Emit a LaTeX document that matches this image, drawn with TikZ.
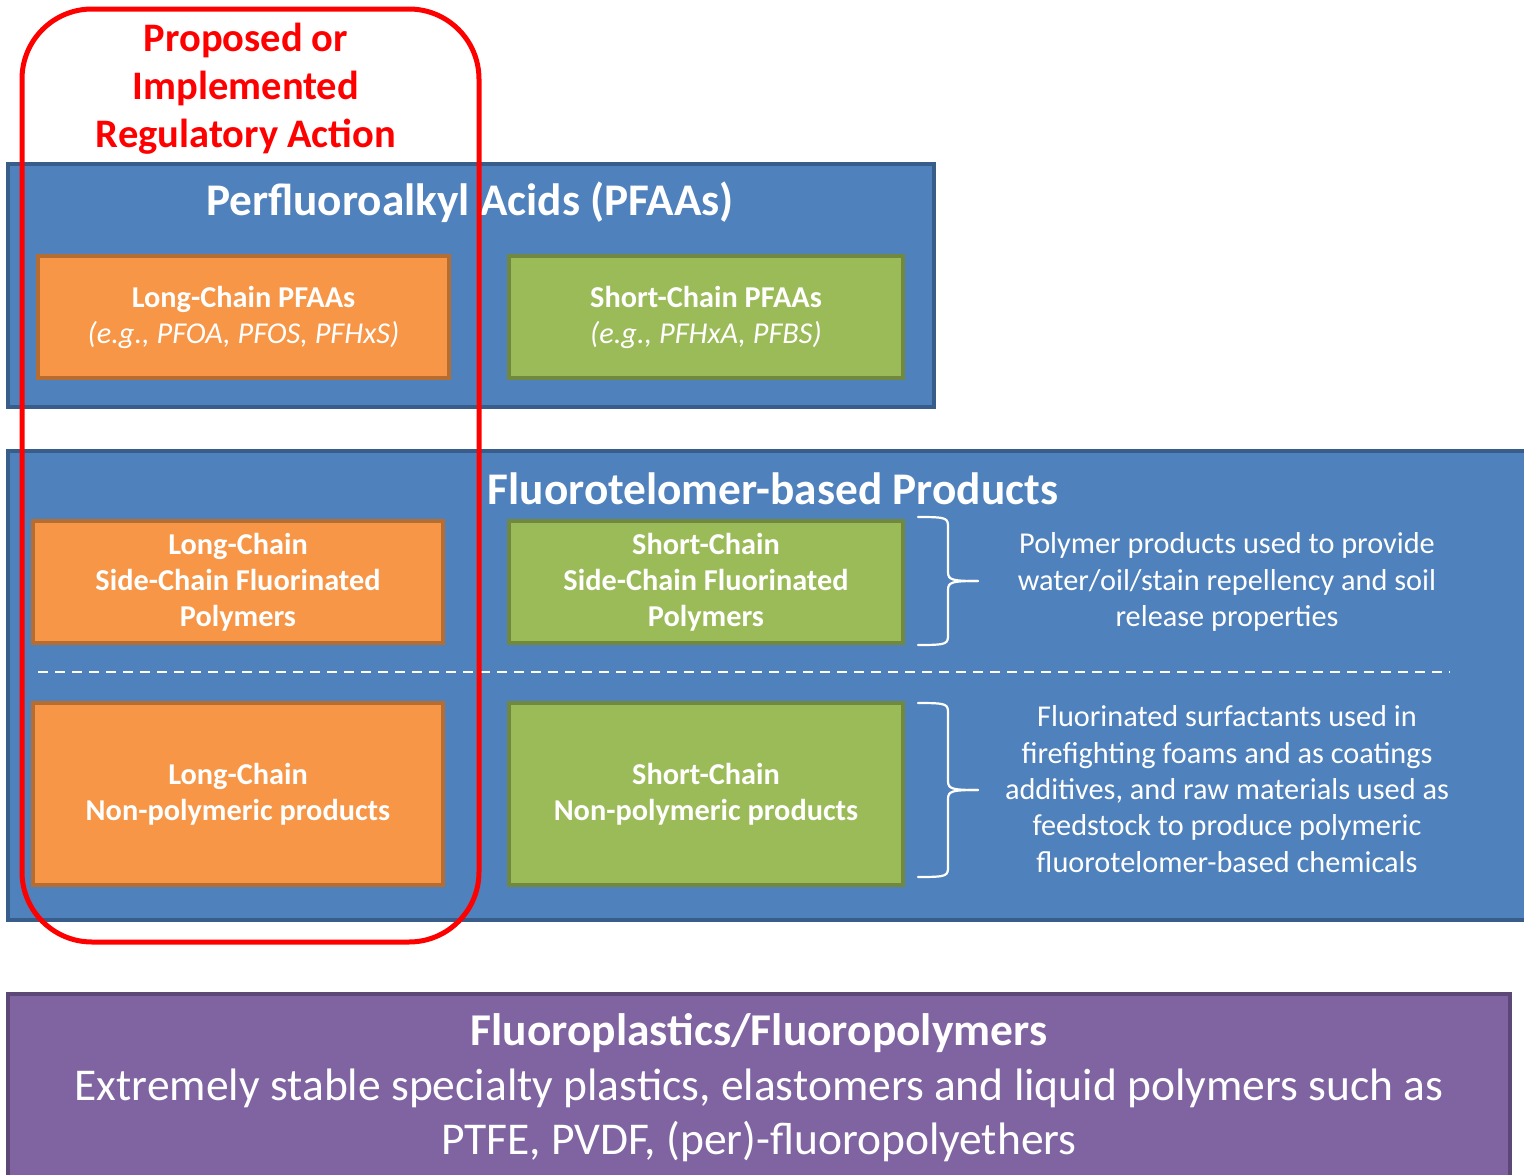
\documentclass[tikz,border=0pt]{standalone}
\usepackage{fontspec}
\setmainfont{Carlito}
\definecolor{pblue}{HTML}{4F81BD}
\definecolor{pbluedk}{HTML}{385D8A}
\definecolor{porange}{HTML}{F79646}
\definecolor{porangedk}{HTML}{B66D31}
\definecolor{pgreen}{HTML}{9BBB59}
\definecolor{pgreendk}{HTML}{71893F}
\definecolor{ppurple}{HTML}{8064A2}
\definecolor{ppurpledk}{HTML}{5C4776}
\definecolor{pred}{HTML}{FF0000}
\begin{document}
\begin{tikzpicture}[x=1pt,y=-1pt,
  panel/.style={draw=pbluedk,fill=pblue,line width=4pt},
  obox/.style={draw=porangedk,fill=porange,line width=4pt,inner sep=0pt,text=white,align=center,font=\fontsize{30.3}{36}\selectfont\bfseries},
  gbox/.style={draw=pgreendk,fill=pgreen,line width=4pt,inner sep=0pt,text=white,align=center,font=\fontsize{30.3}{36}\selectfont\bfseries},
  ptitle/.style={text=white,font=\fontsize{45.3}{48}\selectfont\bfseries,inner sep=0pt},
  desc/.style={text=white,align=center,font=\fontsize{30.3}{36.3}\selectfont,inner sep=0pt},
  bracestyle/.style={draw=white,line width=2.2pt,line cap=round,line join=round}]
\clip (0,0) rectangle (1524,1175);
\fill[white] (0,0) rectangle (1524,1175);

% top panel
\draw[panel] (8,164) rectangle (934,407);
\node[ptitle] (t1) at (470,202) {Perfluoroalkyl Acids (PFAAs)};
\node[obox,minimum width=411pt,minimum height=122pt] (lcp) at (243.5,317) {Long-Chain PFAAs\\\mdseries\itshape (e.g., PFOA, PFOS, PFHxS)};
\node[gbox,minimum width=394pt,minimum height=122pt] (scp) at (706,317) {Short-Chain PFAAs\\\mdseries\itshape (e.g., PFHxA, PFBS)};

% middle panel
\draw[panel] (8,451) rectangle (1540,920);
\node[ptitle] (t2) at (773,489) {Fluorotelomer-based Products};
\node[obox,minimum width=410pt,minimum height=122pt] (lcs) at (238,582) {Long-Chain\\Side-Chain Fluorinated\\Polymers};
\node[gbox,minimum width=394pt,minimum height=122pt] (scs) at (706,582) {Short-Chain\\Side-Chain Fluorinated\\Polymers};
\node[obox,minimum width=410pt,minimum height=182pt] (lcn) at (238,794) {Long-Chain\\Non-polymeric products};
\node[gbox,minimum width=394pt,minimum height=182pt] (scn) at (706,794) {Short-Chain\\Non-polymeric products};
\coordinate (dA) at (38,672);
\coordinate (dB) at (1450,672);
\draw[white,line width=2.3pt,dash pattern=on 10pt off 7pt] (dA) -- (dB);

% braces
\coordinate (b1t) at (918,517);
\coordinate (b1b) at (918,645);
\coordinate (b1m) at (978,581);
\draw[bracestyle] (b1t) .. controls (948,517) and (948,518) .. (948,528) -- (948,572) .. controls (948,580) and (952,581) .. (b1m);
\draw[bracestyle] (b1b) .. controls (948,645) and (948,644) .. (948,634) -- (948,590) .. controls (948,582) and (952,581) .. (b1m);
\coordinate (b2t) at (918,703);
\coordinate (b2b) at (918,877);
\coordinate (b2m) at (978,790);
\draw[bracestyle] (b2t) .. controls (948,703) and (948,704) .. (948,714) -- (948,781) .. controls (948,789) and (952,790) .. (b2m);
\draw[bracestyle] (b2b) .. controls (948,877) and (948,876) .. (948,866) -- (948,799) .. controls (948,791) and (952,790) .. (b2m);

\node[desc] (d1) at (1227,582) {Polymer products used to provide\\water/oil/stain repellency and soil\\release properties};
\node[desc] (d2) at (1227,789) {Fluorinated surfactants used in\\firefighting foams and as coatings\\additives, and raw materials used as\\feedstock to produce polymeric\\fluorotelomer-based chemicals};

% bottom panel
\draw[draw=ppurpledk,fill=ppurple,line width=4pt] (8,994) rectangle (1510,1185);
\node[text=white,align=center,inner sep=0pt,font=\fontsize{45.5}{54.5}\selectfont] (fp) at (759,1088) {\bfseries Fluoroplastics/Fluoropolymers\\Extremely stable specialty plastics, elastomers and liquid polymers such as\\PTFE, PVDF, (per)-fluoropolyethers};

% red regulatory frame
\draw[pred,line width=5pt,rounded corners=70pt] (22,9) rectangle (479,942);
\node[text=pred,align=center,inner sep=0pt,font=\fontsize{40.5}{48}\selectfont\bfseries] (reg) at (246,89) {Proposed or\\Implemented\\Regulatory Action};
\end{tikzpicture}
\end{document}
